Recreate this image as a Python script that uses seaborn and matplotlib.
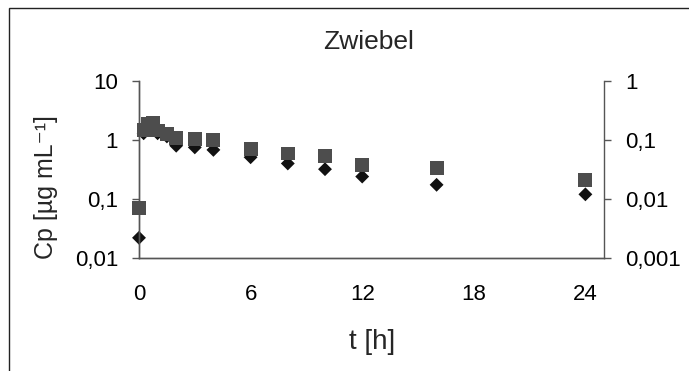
import matplotlib
matplotlib.use("Agg")
import matplotlib.pyplot as plt
import matplotlib.patches as mpatches
from matplotlib.ticker import FixedLocator, FuncFormatter, NullLocator
import seaborn as sns
import pandas as pd

# Sampling times [h]
time_h = [0, 0.25, 0.5, 0.75, 1, 1.5, 2, 3, 4, 6, 8, 10, 12, 16, 24]
# Plasma concentration, left axis [µg/mL]
conc_left = [0.07, 1.5, 1.9, 1.95, 1.45, 1.25, 1.1, 1.05, 1.0, 0.70, 0.59, 0.54, 0.38, 0.33, 0.21]
# Second series, right axis
conc_right = [0.0022, 0.13, 0.16, 0.16, 0.13, 0.115, 0.08, 0.075, 0.068, 0.051, 0.040, 0.032, 0.024, 0.0174, 0.012]

left_ticks = [0.01, 0.1, 1, 10]
right_ticks = [0.001, 0.01, 0.1, 1]
x_ticks = [0, 6, 12, 18, 24]
title = "Zwiebel"
xlabel = "t [h]"
ylabel = "Cp [µg mL⁻¹]"

sns.set_theme(style="white")
plt.rcParams["font.family"] = ["Liberation Sans", "DejaVu Sans"]

df = pd.DataFrame({"t": time_h, "left": conc_left, "right": conc_right})

fig = plt.figure(figsize=(6.89, 3.71), dpi=100)
ax = fig.add_axes([139 / 689, 1 - 258 / 371, (604 - 139) / 689, (258 - 81) / 371])
ax2 = ax.twinx()

sns.scatterplot(data=df, x="t", y="right", ax=ax2, marker="D", s=50,
                color="#111111", edgecolor="none", linewidth=0, zorder=2,
                clip_on=False)
sns.scatterplot(data=df, x="t", y="left", ax=ax, marker="s", s=100,
                color="#4d4d4d", edgecolor="none", linewidth=0, zorder=3,
                clip_on=False)

# Put the square series in front of the diamond series
ax.set_zorder(ax2.get_zorder() + 1)
ax.patch.set_visible(False)

def comma(v, pos):
    s = f"{v:g}"
    return s.replace(".", ",")

for a, ticks, lim in ((ax, left_ticks, (0.01, 10)), (ax2, right_ticks, (0.001, 1))):
    a.set_yscale("log")
    a.set_ylim(*lim)
    a.yaxis.set_major_locator(FixedLocator(ticks))
    a.yaxis.set_minor_locator(NullLocator())
    a.yaxis.set_major_formatter(FuncFormatter(comma))
    a.set_ylabel("")
    a.set_xlabel("")

ax.set_xlim(0, 25)
ax.xaxis.set_major_locator(FixedLocator(x_ticks))
ax.set_xticklabels([str(v) for v in x_ticks])

spine_color = "#555555"
for a in (ax, ax2):
    for name, sp in a.spines.items():
        sp.set_color(spine_color)
        sp.set_linewidth(1.0)
    a.spines["top"].set_visible(False)

ax.tick_params(axis="both", which="major", direction="out", length=5, width=1,
               color=spine_color, labelsize=16, labelcolor="black")
ax.tick_params(axis="x", pad=14)
ax.tick_params(axis="y", pad=10, left=True, right=False)
ax2.tick_params(axis="y", which="major", direction="out", length=5, width=1,
                color=spine_color, labelsize=16, labelcolor="black", pad=10, right=True)
ax.spines["right"].set_visible(False)

fig.text(369 / 689, 1 - 42 / 371, title, ha="center", va="center", fontsize=19)
fig.text(372 / 689, 1 - 342 / 371, xlabel, ha="center", va="center", fontsize=20)
fig.text(46 / 689, 1 - 187 / 371, ylabel, ha="center", va="center", rotation=90, fontsize=18)

# Outer frame of the chart area
frame = mpatches.Rectangle((8.5 / 689, -0.5), 2.0, 1.5 - 7.5 / 371,
                           transform=fig.transFigure, fill=False,
                           edgecolor="#222222", linewidth=1.0, clip_on=False)
fig.patches.append(frame)

fig.savefig("out.png", dpi=100)
